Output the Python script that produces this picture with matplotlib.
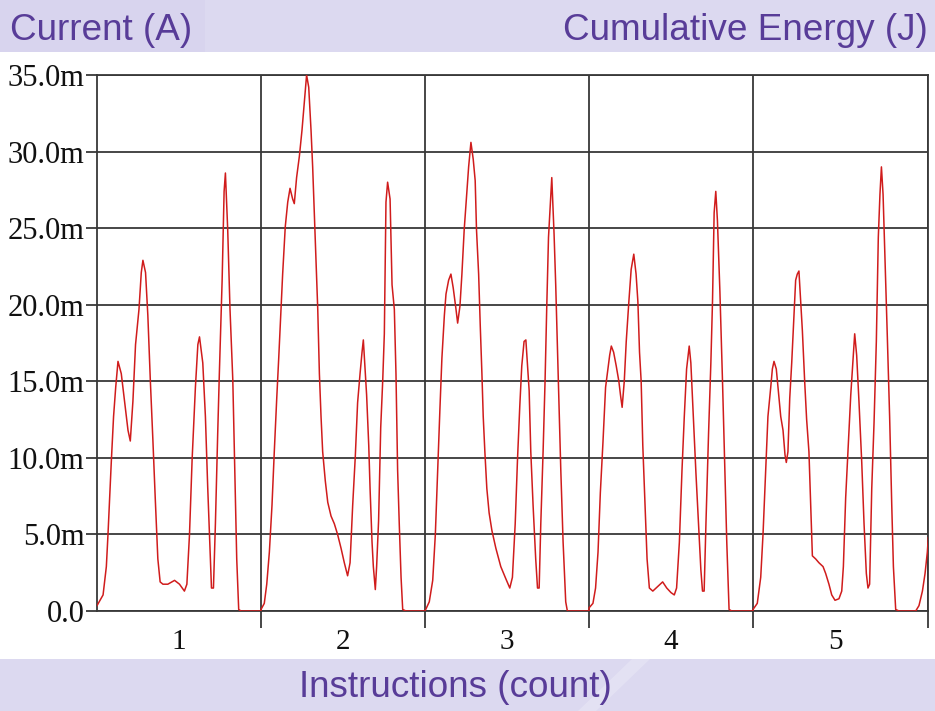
import matplotlib
matplotlib.use("Agg")
import matplotlib.pyplot as plt
import numpy as np
from matplotlib.patches import Rectangle, Polygon

# ---------------- data ----------------
cycle_labels = ["1", "2", "3", "4", "5"]
y_ticks = [0, 5, 10, 15, 20, 25, 30, 35]
y_tick_labels = ["0.0", "5.0m", "10.0m", "15.0m", "20.0m", "25.0m", "30.0m", "35.0m"]

# position within each instruction cycle (fraction) and current (mA)
cycle1_pos = [0.000, 0.037, 0.057, 0.067, 0.087, 0.101, 0.114, 0.128, 0.148, 0.168,
              0.189, 0.203, 0.219, 0.235, 0.256, 0.270, 0.280, 0.296, 0.310, 0.325,
              0.341, 0.355, 0.371, 0.385, 0.402, 0.432, 0.473, 0.503, 0.533, 0.548,
              0.564, 0.580, 0.600, 0.615, 0.625, 0.645, 0.661, 0.675, 0.690, 0.698,
              0.710, 0.722, 0.736, 0.746, 0.763, 0.775, 0.783, 0.797, 0.811, 0.828,
              0.840, 0.852, 0.864, 0.878, 1.000]
cycle1_cur = [0.35, 1.05, 2.9, 5.0, 9.7, 12.7, 14.6, 16.3, 15.5, 13.7,
              11.8, 11.1, 13.7, 17.4, 19.7, 22.1, 22.9, 22.1, 19.3, 15.1,
              11.1, 7.4, 3.4, 1.9, 1.75, 1.75, 2.0, 1.75, 1.3, 1.75,
              5.0, 9.9, 14.6, 17.4, 17.9, 16.2, 12.7, 8.1, 3.9, 1.5,
              1.5, 5.7, 11.6, 15.5, 21.6, 27.4, 28.6, 24.9, 19.7, 15.1,
              9.2, 3.4, 0.1, 0.0, 0.0]

cycle2_pos = [0.000, 0.020, 0.035, 0.051, 0.067, 0.081, 0.096, 0.108, 0.122, 0.132,
              0.148, 0.163, 0.177, 0.193, 0.203, 0.217, 0.234, 0.250, 0.264, 0.278,
              0.291, 0.305, 0.315, 0.325, 0.335, 0.346, 0.356, 0.366, 0.376, 0.392,
              0.407, 0.427, 0.447, 0.467, 0.488, 0.508, 0.528, 0.543, 0.559, 0.575,
              0.589, 0.604, 0.616, 0.624, 0.636, 0.644, 0.657, 0.665, 0.677, 0.685,
              0.697, 0.705, 0.717, 0.730, 0.742, 0.752, 0.762, 0.772, 0.787, 0.799,
              0.813, 0.823, 0.833, 0.843, 0.854, 0.864, 0.884, 1.000]
cycle2_cur = [0.1, 0.5, 1.75, 3.85, 6.9, 10.4, 13.9, 16.5, 19.7, 22.0,
              25.1, 26.7, 27.6, 26.9, 26.6, 28.3, 29.7, 31.4, 33.2, 35.0,
              34.2, 31.4, 29.0, 26.0, 23.0, 19.7, 15.5, 12.7, 10.4, 8.5,
              7.1, 6.2, 5.7, 5.0, 4.1, 3.15, 2.3, 3.15, 6.9, 10.1,
              13.6, 15.5, 16.9, 17.7, 15.5, 14.1, 10.8, 8.0, 4.5, 2.9,
              1.4, 2.9, 5.9, 12.0, 15.0, 18.1, 26.7, 28.0, 26.9, 21.3,
              19.7, 15.5, 9.2, 5.7, 2.2, 0.1, 0.0, 0.0]

cycle3_pos = [0.000, 0.026, 0.047, 0.063, 0.077, 0.091, 0.103, 0.118, 0.128, 0.144,
              0.158, 0.172, 0.189, 0.199, 0.213, 0.225, 0.239, 0.254, 0.266, 0.280,
              0.294, 0.306, 0.314, 0.327, 0.337, 0.347, 0.355, 0.365, 0.377, 0.391,
              0.408, 0.432, 0.462, 0.493, 0.517, 0.533, 0.550, 0.564, 0.578, 0.590,
              0.604, 0.615, 0.625, 0.635, 0.645, 0.659, 0.675, 0.686, 0.696, 0.706,
              0.720, 0.732, 0.742, 0.753, 0.767, 0.773, 0.787, 0.797, 0.813, 0.828,
              0.842, 0.858, 0.868, 1.000]
cycle3_cur = [0.0, 0.6, 2.0, 5.0, 9.2, 13.2, 16.5, 19.3, 20.7, 21.6,
              22.0, 21.1, 19.7, 18.8, 19.9, 22.0, 24.9, 27.2, 29.0, 30.6,
              29.5, 28.1, 24.9, 22.0, 18.6, 15.5, 12.7, 10.4, 8.0, 6.4,
              5.25, 4.1, 2.9, 2.1, 1.5, 2.2, 5.7, 9.9, 13.4, 16.0,
              17.6, 17.7, 16.0, 14.4, 10.4, 6.9, 3.4, 1.5, 1.5, 5.7,
              10.4, 15.0, 19.7, 24.4, 27.2, 28.3, 24.6, 21.3, 15.0, 9.2,
              4.5, 0.6, 0.0, 0.0]

cycle4_pos = [0.000, 0.024, 0.040, 0.055, 0.069, 0.085, 0.101, 0.115, 0.126, 0.136,
              0.150, 0.166, 0.182, 0.192, 0.202, 0.215, 0.227, 0.243, 0.257, 0.273,
              0.287, 0.298, 0.308, 0.318, 0.328, 0.342, 0.354, 0.368, 0.389, 0.419,
              0.449, 0.474, 0.500, 0.520, 0.534, 0.551, 0.567, 0.581, 0.595, 0.611,
              0.621, 0.636, 0.652, 0.668, 0.682, 0.692, 0.702, 0.713, 0.729, 0.743,
              0.753, 0.763, 0.773, 0.783, 0.798, 0.814, 0.828, 0.840, 0.854, 0.870,
              1.000]
cycle4_cur = [0.2, 0.5, 1.5, 3.85, 7.7, 11.0, 14.6, 15.8, 16.7, 17.3,
              16.9, 16.0, 15.0, 14.1, 13.3, 15.0, 17.6, 20.2, 22.3, 23.3,
              22.0, 20.2, 16.9, 15.0, 10.8, 6.9, 3.4, 1.5, 1.3, 1.6,
              1.9, 1.5, 1.2, 1.05, 1.5, 4.5, 9.2, 12.7, 15.8, 17.3,
              16.2, 12.7, 9.0, 5.7, 2.7, 1.3, 1.3, 5.7, 11.6, 16.2,
              20.2, 26.0, 27.4, 25.5, 20.9, 15.0, 9.2, 4.5, 0.1, 0.0,
              0.0]

cycle5_pos = [0.000, 0.026, 0.047, 0.061, 0.077, 0.091, 0.108, 0.118, 0.128, 0.142,
              0.154, 0.169, 0.183, 0.195, 0.203, 0.213, 0.224, 0.236, 0.250, 0.260,
              0.270, 0.280, 0.291, 0.301, 0.315, 0.327, 0.341, 0.352, 0.362, 0.382,
              0.402, 0.427, 0.443, 0.463, 0.480, 0.500, 0.524, 0.541, 0.551, 0.565,
              0.579, 0.596, 0.610, 0.620, 0.632, 0.646, 0.663, 0.677, 0.691, 0.701,
              0.711, 0.724, 0.738, 0.752, 0.764, 0.774, 0.783, 0.793, 0.805, 0.819,
              0.833, 0.846, 0.856, 0.870, 0.890, 0.992, 1.012, 1.033, 1.049, 1.063,
              1.069]
cycle5_cur = [0.1, 0.5, 2.2, 5.0, 9.2, 12.7, 14.6, 15.8, 16.3, 15.8,
              14.4, 12.7, 11.8, 10.2, 9.7, 10.4, 13.9, 16.2, 19.3, 21.6,
              22.0, 22.2, 20.2, 18.3, 15.0, 12.5, 10.4, 6.9, 3.6, 3.4,
              3.15, 2.9, 2.45, 1.75, 1.05, 0.7, 0.8, 1.3, 2.9, 7.4,
              10.4, 14.1, 16.5, 18.1, 16.7, 13.7, 9.7, 5.7, 2.45, 1.5,
              1.75, 8.0, 12.3, 17.6, 24.4, 27.2, 29.0, 27.2, 23.0, 17.9,
              12.7, 6.9, 2.9, 0.1, 0.0, 0.0, 0.35, 1.3, 2.45, 3.85,
              4.8]

cycles = [(cycle1_pos, cycle1_cur), (cycle2_pos, cycle2_cur), (cycle3_pos, cycle3_cur),
          (cycle4_pos, cycle4_cur), (cycle5_pos, cycle5_cur)]

# ---------------- figure ----------------
W, H = 935, 711
fig = plt.figure(figsize=(W / 100, H / 100), dpi=100)
fig.patch.set_facecolor("white")

banner = "#dcd9f0"
purple = "#583c98"
# top banner
fig.patches.append(Rectangle((0, 1 - 52 / H), 1, 52 / H, transform=fig.transFigure,
                             facecolor=banner, edgecolor="none", zorder=0))
fig.patches.append(Rectangle((0, 1 - 52 / H), 205 / W, 52 / H, transform=fig.transFigure,
                             facecolor="#d8d4ee", edgecolor="none", zorder=0))
# bottom banner
fig.patches.append(Rectangle((0, 0), 1, 52 / H, transform=fig.transFigure,
                             facecolor=banner, edgecolor="none", zorder=0))
sheen = Polygon([(578 / W, 0), (596 / W, 0), (650 / W, 52 / H), (632 / W, 52 / H)],
                closed=True, transform=fig.transFigure, facecolor="white",
                edgecolor="none", alpha=0.22, zorder=0)
fig.patches.append(sheen)

ax = fig.add_axes([97 / W, 1 - 611 / H, 831 / W, 536 / H])
ax.set_facecolor("white")

xs, ys = [], []
for i, (p, c) in enumerate(cycles):
    assert len(p) == len(c)
    xs.extend(np.asarray(p) + i + 0.5)
    ys.extend(c)
ax.plot(xs, ys, color="#d01c1c", lw=1.1, zorder=3)

ax.set_xlim(0.5, 5.567)
ax.set_ylim(0, 35)

serif = "Liberation Serif"
ax.set_yticks(y_ticks)
ax.set_yticklabels(y_tick_labels, fontfamily=serif, fontsize=22, color="#111111")
ax.set_xticks([1, 2, 3, 4, 5])
ax.set_xticklabels(cycle_labels, fontfamily=serif, fontsize=21, color="#111111")
ax.set_xticks([1.5, 2.5, 3.5, 4.5, 5.567], minor=True)

gc = "#383838"
ax.tick_params(axis="x", which="major", length=0, pad=13)
ax.tick_params(axis="x", which="minor", length=12, width=1.3, color=gc, direction="out")
ax.tick_params(axis="y", length=8, width=1.3, color=gc, pad=1)
ax.grid(axis="y", which="major", color=gc, lw=1.3, zorder=1)
ax.grid(axis="x", which="minor", color=gc, lw=1.3, zorder=1)
for s in ax.spines.values():
    s.set_color(gc)
    s.set_linewidth(1.3)

sans = "Liberation Sans"
fig.text(10 / W, 1 - 40 / H, "Current (A)", fontfamily=sans, fontsize=26.6,
         color=purple, ha="left", va="baseline")
fig.text(928 / W, 1 - 40 / H, "Cumulative Energy (J)", fontfamily=sans, fontsize=26.6,
         color=purple, ha="right", va="baseline")
fig.text(455 / W, 1 - 697 / H, "Instructions (count)", fontfamily=sans, fontsize=26.6,
         color=purple, ha="center", va="baseline")

fig.savefig("out.png", dpi=100)
